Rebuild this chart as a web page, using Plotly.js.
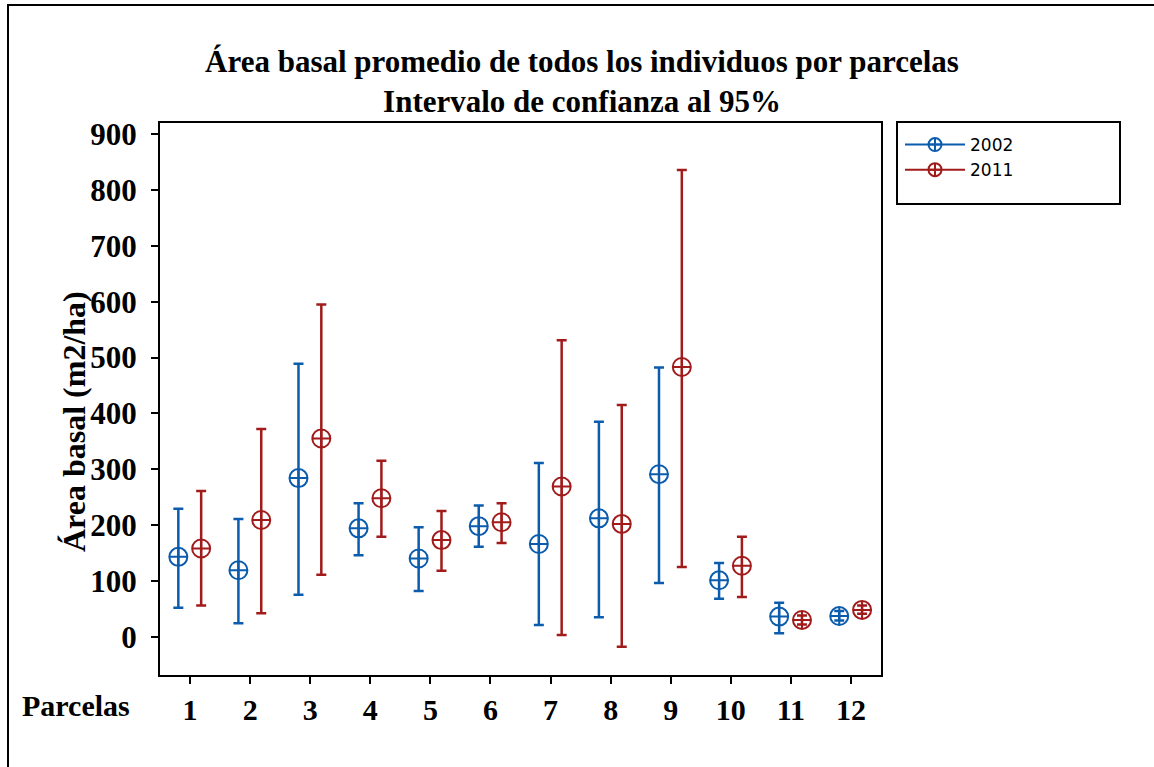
<!DOCTYPE html>
<html>
<head>
<meta charset="utf-8">
<script src="https://cdn.plot.ly/plotly-3.0.1.min.js"></script>
<style>
html,body{margin:0;padding:0;background:#fff;}
#frame{position:absolute;left:7px;top:4px;width:1160px;height:780px;border-left:2px solid #000;border-top:2px solid #000;pointer-events:none;z-index:10;}
#chart{width:1154px;height:767px;}
</style>
</head>
<body>
<div id="frame"></div>
<div id="chart"></div>
<script>
const parcelas = [1,2,3,4,5,6,7,8,9,10,11,12];
const tickLabels = ['1','2','3','4','5','6','7','8','9','10','11','12'];
const yTicks = [0,100,200,300,400,500,600,700,800,900];

const mean2002  = [143, 119, 284, 194, 140, 198, 166, 212, 291, 101, 36, 37];
const upper2002 = [229, 211, 489, 239, 196, 235, 311, 385, 482, 132, 61, 46];
const lower2002 = [ 52,  24,  75, 146,  82, 161,  21,  35,  96,  68,  6, 29];

const mean2011  = [158, 209, 355, 248, 173, 205, 269, 202, 483, 127, 30, 48];
const upper2011 = [261, 372, 595, 315, 225, 239, 531, 415, 836, 179, 38, 56];
const lower2011 = [ 56,  42, 111, 179, 118, 168,   3, -18, 125,  71, 22, 41];

const blue = '#0B5CAD';
const red = '#A11B1B';
const serif = 'Liberation Serif, Times New Roman, serif';

function mk(name, means, up, lo, color, off) {
  return {
    type: 'scatter', mode: 'markers', name: name, showlegend: false,
    x: parcelas.map(p => p + off), y: means,
    marker: {symbol: 'circle-cross-open', size: 18, color: color, line: {width: 2, color: color}},
    error_y: {type: 'data', symmetric: false,
      array: up.map((u, i) => u - means[i]),
      arrayminus: lo.map((l, i) => means[i] - l),
      color: color, thickness: 2.5, width: 5},
    hoverinfo: 'x+y'
  };
}
function leg(name, color) {
  return {type: 'scatter', mode: 'lines+markers', name: name, x: [null], y: [null],
    line: {color: color, width: 2},
    marker: {symbol: 'circle-cross-open', size: 13, color: color, line: {width: 2, color: color}}};
}

const traces = [
  mk('2002', mean2002, upper2002, lower2002, blue, -0.195),
  mk('2011', mean2011, upper2011, lower2011, red, 0.185),
  leg('2002', blue), leg('2011', red)
];

const L = 160, R = 881, T = 123, B = 675;
const W = R - L, H = B - T;
const px = x => (x - L) / W;
const py = y => (B - y) / H;

const layout = {
  width: 1154, height: 767,
  margin: {l: L, r: 1154 - R, t: T, b: 767 - B},
  paper_bgcolor: '#fff', plot_bgcolor: '#fff',
  title: {text: 'Área basal promedio de todos los individuos por parcelas<br>Intervalo de confianza al 95%',
    font: {family: serif, size: 31, color: '#000', weight: 'bold'},
    x: 582 / 1154, xref: 'container', xanchor: 'center',
    y: 1 - 72 / 767, yref: 'container', yanchor: 'middle'},
  xaxis: {range: [0.5, 12.5], tickvals: parcelas, ticktext: tickLabels,
    showgrid: false, zeroline: false, showline: true, linecolor: '#000', linewidth: 2, mirror: true,
    ticks: 'outside', ticklen: 7, tickwidth: 2, tickcolor: '#000',
    tickfont: {family: serif, size: 30, color: '#000', weight: 'bold'}},
  yaxis: {range: [-68.6, 920], tickvals: yTicks,
    showgrid: false, zeroline: false, showline: true, linecolor: '#000', linewidth: 2, mirror: true,
    ticks: 'outside', ticklen: 7, tickwidth: 2, tickcolor: '#000', ticklabelstandoff: 8,
    tickfont: {family: serif, size: 31, color: '#000', weight: 'bold'}},
  showlegend: true,
  legend: {x: px(900), y: py(127), xanchor: 'left', yanchor: 'top', bgcolor: 'rgba(0,0,0,0)',
    borderwidth: 0, font: {family: 'DejaVu Sans, sans-serif', size: 17, color: '#000'}, tracegroupgap: 0,
    itemwidth: 60},
  shapes: [{type: 'rect', xref: 'paper', yref: 'paper', x0: px(897), x1: px(1120), y0: py(204), y1: py(122),
    line: {color: '#000', width: 2}, fillcolor: 'rgba(0,0,0,0)'}],
  annotations: [
    {text: 'Área basal (m2/ha)', textangle: -90, xref: 'paper', yref: 'paper', x: px(74), y: py(422),
      xanchor: 'center', yanchor: 'middle', showarrow: false,
      font: {family: serif, size: 32, color: '#000', weight: 'bold'}},
    {text: 'Parcelas', xref: 'paper', yref: 'paper', x: px(76), y: py(705),
      xanchor: 'center', yanchor: 'middle', showarrow: false,
      font: {family: serif, size: 30, color: '#000', weight: 'bold'}}
  ]
};

Plotly.newPlot('chart', traces, layout, {displayModeBar: false, staticPlot: true});
</script>
</body>
</html>
